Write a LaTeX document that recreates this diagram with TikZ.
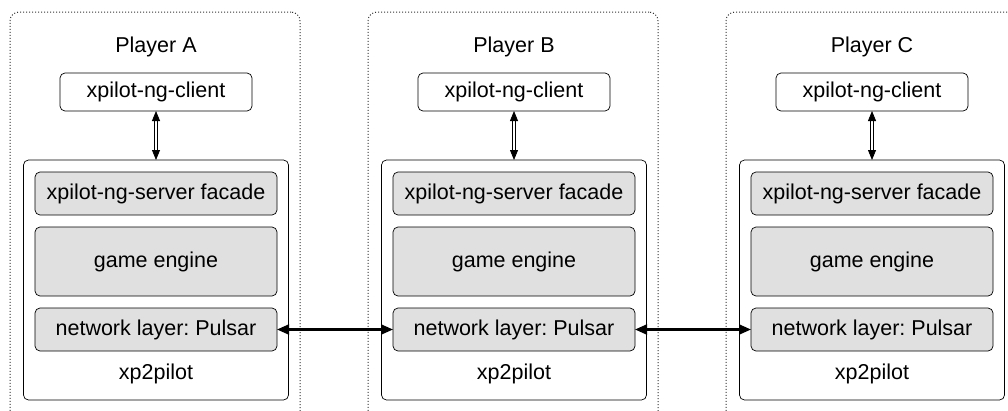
\documentclass[tikz,border=0pt]{standalone}
\usepackage{fontspec}
\setmainfont{Liberation Sans}
\usepackage{tikz}
\usetikzlibrary{positioning,arrows.meta}
\frenchspacing

\definecolor{layergray}{RGB}{224,224,224}
\definecolor{framegray}{RGB}{50,50,50}

\tikzset{
  every node/.style={outer sep=0pt},
  txt/.style={inner sep=0pt, text height=16pt, text depth=5pt},
  playerbox/.style={draw=framegray, dash pattern=on 1pt off 2pt, line width=1pt, rounded corners=9pt,
    anchor=north west, minimum width=290pt, minimum height=430pt},
  clientbox/.style={txt, draw, line width=.7pt, rounded corners=5pt,
    minimum width=192pt, minimum height=38pt},
  serverbox/.style={draw, line width=.7pt, rounded corners=5pt,
    minimum width=265pt, minimum height=240pt},
  layerbox/.style={txt, draw, fill=layergray, line width=.7pt, rounded corners=5pt,
    minimum width=242pt, minimum height=43pt},
  api/.style={double, double distance=2.4pt, line width=.8pt,
    {Triangle[length=10pt,width=8pt]}-{Triangle[length=10pt,width=8pt]}},
  link/.style={line width=2.2pt,
    {Triangle[length=12pt,width=10pt]}-{Triangle[length=12pt,width=10pt]}}
}

\begin{document}
\begin{tikzpicture}[x=1pt,y=-1pt,font=\fontsize{21.5pt}{26pt}\selectfont]
  \useasboundingbox (0,0) rectangle (1008,410);
  \clip (0,0) rectangle (1008,410);

  % player frames
  \node[playerbox] (plA) at (10,12) {};
  \node[playerbox] (plB) at (368,12) {};
  \node[playerbox] (plC) at (726,12) {};

  % player A
  \node[serverbox] (srvA) at (156,280) {};
  \node[clientbox] (cliA) [above = 49pt of srvA] {xpilot-ng-client};
  \node[txt] (labA) [above = 16pt of cliA] {Player A};
  \node[layerbox] (facA) [below = 12pt of srvA.north] {xpilot-ng-server facade};
  \node[layerbox, minimum height=69pt] (engA) [below = 12pt of facA] {game engine};
  \node[layerbox] (netA) [below = 12pt of engA] {network layer: Pulsar};
  \node[txt] (xpA) [below = 12pt of netA] {xp2pilot};

  % player B
  \node[serverbox] (srvB) at (514,280) {};
  \node[clientbox] (cliB) [above = 49pt of srvB] {xpilot-ng-client};
  \node[txt] (labB) [above = 16pt of cliB] {Player B};
  \node[layerbox] (facB) [below = 12pt of srvB.north] {xpilot-ng-server facade};
  \node[layerbox, minimum height=69pt] (engB) [below = 12pt of facB] {game engine};
  \node[layerbox] (netB) [below = 12pt of engB] {network layer: Pulsar};
  \node[txt] (xpB) [below = 12pt of netB] {xp2pilot};

  % player C
  \node[serverbox] (srvC) at (872,280) {};
  \node[clientbox] (cliC) [above = 49pt of srvC] {xpilot-ng-client};
  \node[txt] (labC) [above = 16pt of cliC] {Player C};
  \node[layerbox] (facC) [below = 12pt of srvC.north] {xpilot-ng-server facade};
  \node[layerbox, minimum height=69pt] (engC) [below = 12pt of facC] {game engine};
  \node[layerbox] (netC) [below = 12pt of engC] {network layer: Pulsar};
  \node[txt] (xpC) [below = 12pt of netC] {xp2pilot};

  % connections
  \draw[api] (cliA) -- (srvA);
  \draw[api] (cliB) -- (srvB);
  \draw[api] (cliC) -- (srvC);
  \draw[link] (netA) -- (netB);
  \draw[link] (netB) -- (netC);
\end{tikzpicture}
\end{document}
